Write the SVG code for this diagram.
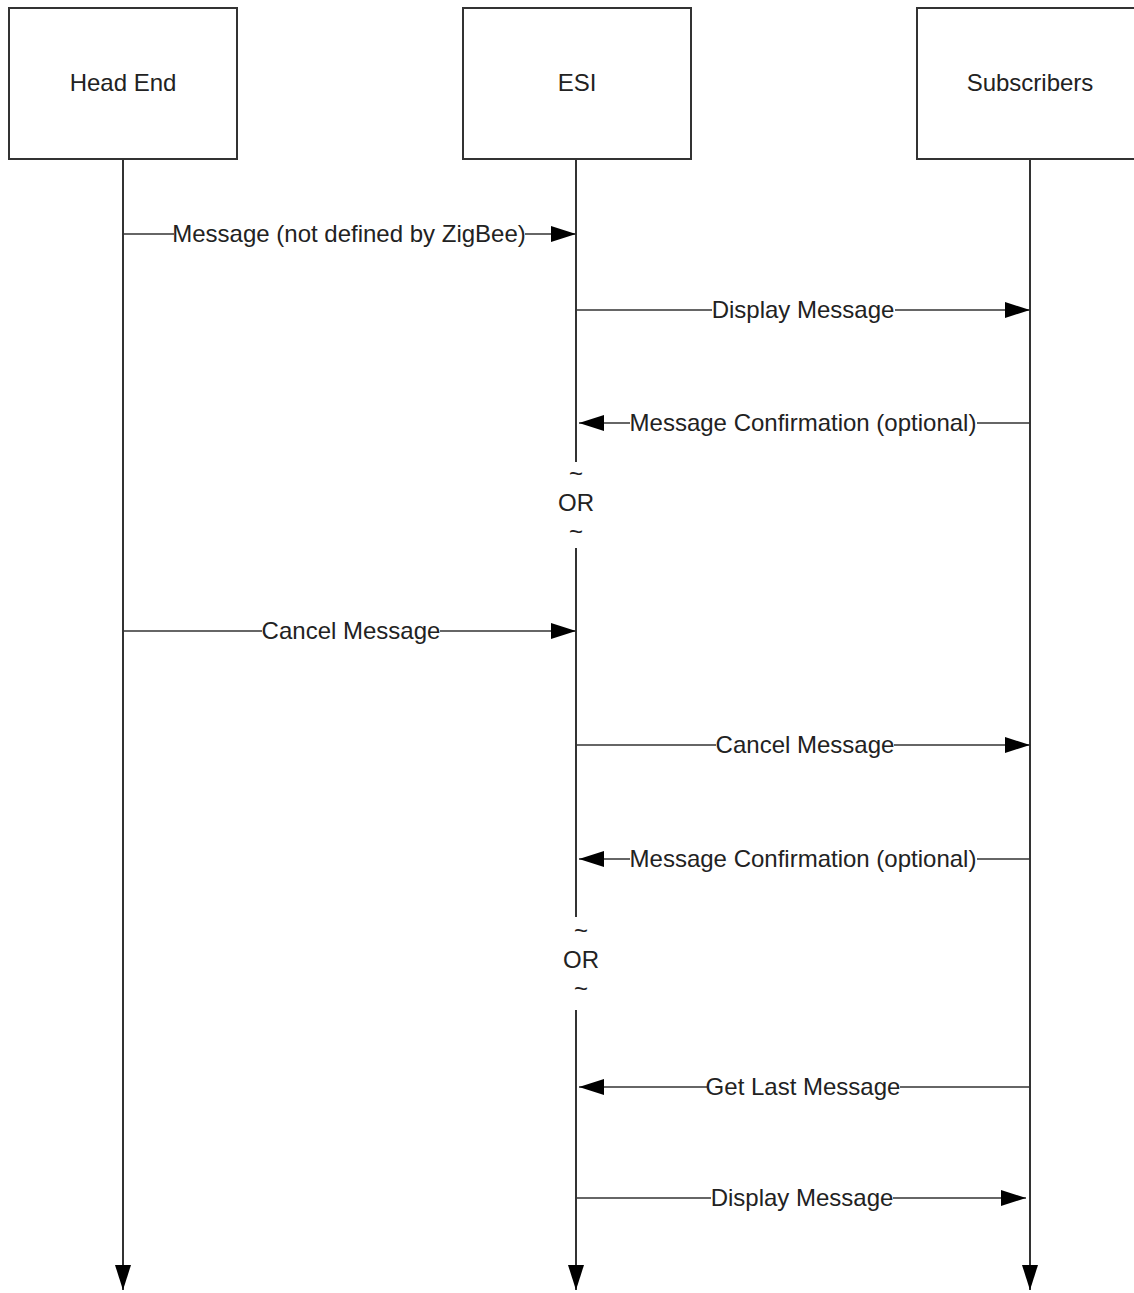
<svg xmlns="http://www.w3.org/2000/svg" width="1134" height="1293" viewBox="0 0 1134 1293">
<style>
.box{fill:#fff;stroke:#333;stroke-width:2}
.life{stroke:#333;stroke-width:2;fill:none}
.msg{stroke:#333;stroke-width:1.6;fill:none;marker-end:url(#ah)}
.t{font-family:"Liberation Sans",Arial,sans-serif;font-size:24px;fill:#222;text-anchor:middle}
.bg{fill:#fff}
</style>
<defs>
<marker id="ah" markerUnits="userSpaceOnUse" markerWidth="26" markerHeight="18" refX="25" refY="8" orient="auto">
<path d="M0,0 L25,8 L0,16 z" fill="#000"/>
</marker>
</defs>
<rect width="1134" height="1293" fill="#fff"/>
<g id="connectors">
<line class="life" x1="123" y1="159" x2="123" y2="1290" marker-end="url(#ah)"/>
<line class="life" x1="576" y1="159" x2="576" y2="462"/>
<line class="life" x1="576" y1="548" x2="576" y2="917"/>
<line class="life" x1="576" y1="1010" x2="576" y2="1290" marker-end="url(#ah)"/>
<line class="life" x1="1030" y1="159" x2="1030" y2="1290" marker-end="url(#ah)"/>
<text class="t" x="576" y="482">~</text>
<text class="t" x="576" y="511">OR</text>
<text class="t" x="576" y="540">~</text>
<text class="t" x="581" y="939">~</text>
<text class="t" x="581" y="968">OR</text>
<text class="t" x="581" y="997">~</text>
<g id="m1"><line class="msg" x1="123" y1="234" x2="576" y2="234"/><rect class="bg" x="174" y="222" width="351" height="24"/><text class="t" x="349" y="242">Message (not defined by ZigBee)</text></g>
<g id="m2"><line class="msg" x1="576" y1="310" x2="1030" y2="310"/><rect class="bg" x="712" y="298" width="183" height="24"/><text class="t" x="803" y="318">Display Message</text></g>
<g id="m3"><line class="msg" x1="1030" y1="423" x2="579" y2="423"/><rect class="bg" x="630" y="411" width="347" height="24"/><text class="t" x="803" y="431">Message Confirmation (optional)</text></g>
<g id="m4"><line class="msg" x1="123" y1="631" x2="576" y2="631"/><rect class="bg" x="262" y="619" width="178" height="24"/><text class="t" x="351" y="639">Cancel Message</text></g>
<g id="m5"><line class="msg" x1="576" y1="745" x2="1030" y2="745"/><rect class="bg" x="716" y="733" width="178" height="24"/><text class="t" x="805" y="753">Cancel Message</text></g>
<g id="m6"><line class="msg" x1="1030" y1="859" x2="579" y2="859"/><rect class="bg" x="630" y="847" width="347" height="24"/><text class="t" x="803" y="867">Message Confirmation (optional)</text></g>
<g id="m7"><line class="msg" x1="1030" y1="1087" x2="579" y2="1087"/><rect class="bg" x="707" y="1075" width="193" height="24"/><text class="t" x="803" y="1095">Get Last Message</text></g>
<g id="m8"><line class="msg" x1="576" y1="1198" x2="1026" y2="1198"/><rect class="bg" x="711" y="1186" width="182" height="24"/><text class="t" x="802" y="1206">Display Message</text></g>
</g>
<g id="head-end"><rect class="box" x="9" y="8" width="228" height="151"/><text class="t" x="123" y="91">Head End</text></g>
<g id="esi"><rect class="box" x="463" y="8" width="228" height="151"/><text class="t" x="577" y="91">ESI</text></g>
<g id="subscribers"><rect class="box" x="917" y="8" width="228" height="151"/><text class="t" x="1030" y="91">Subscribers</text></g>
</svg>
